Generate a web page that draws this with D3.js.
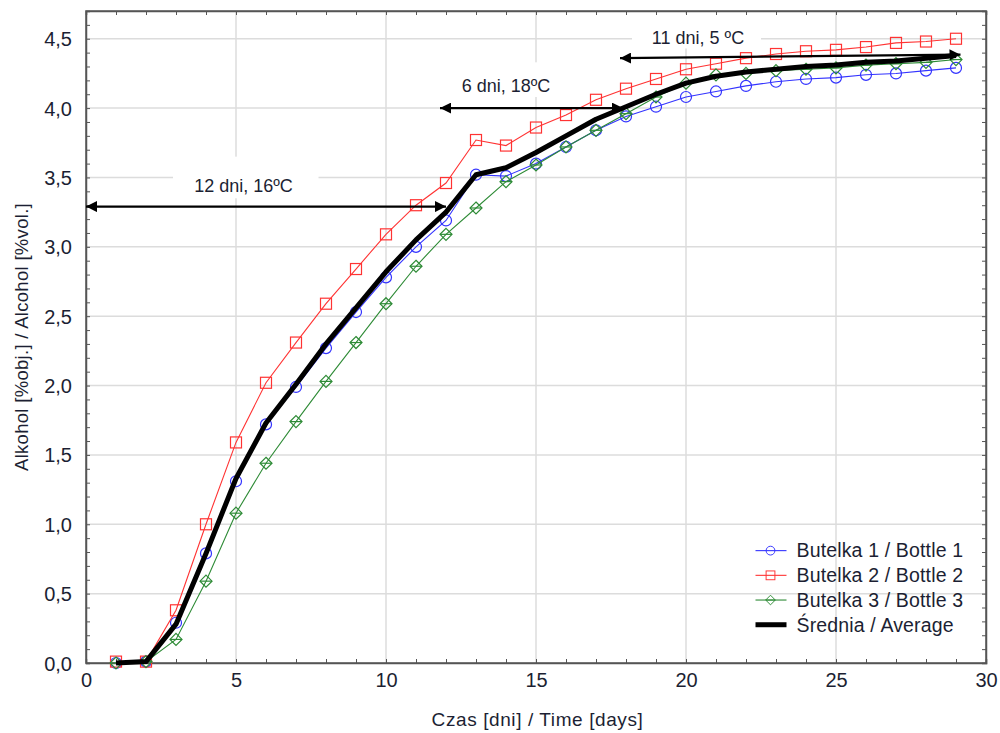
<!DOCTYPE html>
<html>
<head>
<meta charset="utf-8">
<script src="https://cdn.jsdelivr.net/npm/d3@7"></script>
<style>
  body { margin: 0; background: #fff; }
  text { font-family: "Liberation Sans", Arial, sans-serif; }
</style>
</head>
<body>
<div id="plot"></div>
<script>
// days of measurement
var days = [1,2,3,4,5,6,7,8,9,10,11,12,13,14,15,16,17,18,19,20,21,22,23,24,25,26,27,28,29];

var bottle1 = [0.00,0.01,0.29,0.79,1.31,1.72,1.99,2.27,2.53,2.78,3.00,3.19,3.52,3.51,3.60,3.72,3.84,3.94,4.01,4.08,4.12,4.16,4.19,4.21,4.22,4.24,4.25,4.27,4.29];
var bottle2 = [0.01,0.01,0.38,1.00,1.59,2.02,2.31,2.59,2.84,3.09,3.30,3.46,3.77,3.73,3.86,3.95,4.06,4.14,4.21,4.28,4.32,4.36,4.39,4.41,4.42,4.44,4.47,4.48,4.50];
var bottle3 = [0.00,0.01,0.17,0.59,1.08,1.44,1.74,2.03,2.31,2.59,2.86,3.09,3.28,3.47,3.59,3.72,3.84,3.96,4.08,4.18,4.24,4.25,4.27,4.28,4.29,4.31,4.32,4.33,4.35];
var average = [0.00,0.01,0.28,0.79,1.33,1.73,2.01,2.30,2.56,2.82,3.05,3.25,3.52,3.57,3.68,3.80,3.92,4.01,4.10,4.18,4.23,4.26,4.28,4.30,4.31,4.33,4.34,4.36,4.38];

var seriesNames = ["Butelka 1 / Bottle 1", "Butelka 2 / Bottle 2", "Butelka 3 / Bottle 3", "Średnia / Average"];

var xTicks = [0,5,10,15,20,25,30];
var yTicks = [0,0.5,1,1.5,2,2.5,3,3.5,4,4.5];

// annotations: [label, day from, day to, value from, value to]
var arrows = [
  ["12 dni, 16ºC", 0, 12, 3.29, 3.29],
  ["6 dni, 18ºC", 11.8, 17.9, 4.0, 4.0],
  ["11 dni, 5 ºC", 17.8, 29.15, 4.36, 4.385]
];

/*********************** Plot Below *********************/
var W = 1000, H = 733;
var margin = {top: 11, right: 13, bottom: 70, left: 86};
var width = W - margin.left - margin.right,
    height = H - margin.top - margin.bottom;

var xScale = d3.scaleLinear().domain([0, 30]).range([0, 900]);
var yScale = d3.scaleLinear().domain([0, 4.7]).range([height, 0]);

var svg = d3.select("#plot").append("svg")
  .attr("width", W)
  .attr("height", H);

svg.append("defs").append("marker")
  .attr("id", "head")
  .attr("viewBox", "0 0 10 10")
  .attr("refX", 10).attr("refY", 5)
  .attr("markerWidth", 5).attr("markerHeight", 5)
  .attr("markerUnits", "strokeWidth")
  .attr("orient", "auto-start-reverse")
  .append("path")
  .attr("d", "M0,0 L10,5 L0,10 z")
  .attr("fill", "#000");

var g = svg.append("g")
  .attr("transform", "translate(" + margin.left + "," + margin.top + ")");

var comma = function(d) { return d3.format(".1f")(d).replace(".", ","); };

// gridlines
g.append("g")
  .selectAll("line").data(xTicks.slice(1, -1)).join("line")
  .attr("x1", d => xScale(d)).attr("x2", d => xScale(d))
  .attr("y1", 0).attr("y2", height)
  .attr("stroke", "#dcdcdc").attr("stroke-width", 1.5);
g.append("g")
  .selectAll("line").data(yTicks.slice(1)).join("line")
  .attr("x1", 0).attr("x2", xScale(30))
  .attr("y1", d => yScale(d)).attr("y2", d => yScale(d))
  .attr("stroke", "#dcdcdc").attr("stroke-width", 1.5);

// white boxes behind annotation labels
var boxes = [[2.9, 7.75, 3.35, 3.65], [12.3, 16.4, 4.08, 4.33], [18.2, 22.5, 4.43, 4.68]];
g.append("g").selectAll("rect").data(boxes).join("rect")
  .attr("x", d => xScale(d[0]))
  .attr("width", d => xScale(d[1]) - xScale(d[0]))
  .attr("y", d => yScale(d[3]))
  .attr("height", d => yScale(d[2]) - yScale(d[3]))
  .attr("fill", "#fff");

// axes (ticks inside)
var xAxis = d3.axisBottom(xScale).tickValues(d3.range(0, 31)).tickSize(-4).tickFormat(d => xTicks.includes(d) ? d : "").tickPadding(14);
var yAxis = d3.axisLeft(yScale).tickValues(d3.range(0, 47).map(d => d / 10)).tickSize(-4)
  .tickFormat(d => yTicks.some(t => Math.abs(t - d) < 1e-6) ? comma(d) : "").tickPadding(14);

var gx = g.append("g").attr("class", "x axis")
  .attr("transform", "translate(0," + height + ")")
  .call(xAxis);
var gy = g.append("g").attr("class", "y axis").call(yAxis);
g.append("g").call(d3.axisTop(xScale).tickValues(d3.range(1, 30)).tickSize(-4).tickFormat(""));
g.append("g").attr("transform", "translate(" + xScale(30) + ",0)")
  .call(d3.axisRight(yScale).tickValues(d3.range(1, 47).map(d => d / 10)).tickSize(-4).tickFormat(""));

g.selectAll(".domain").attr("stroke", "#555").attr("stroke-width", 1.5);
g.selectAll(".tick line").attr("stroke", "#555");
g.selectAll(".tick text").attr("font-size", 20).attr("fill", "#1c1f33")
  .attr("font-family", "Liberation Sans, Arial, sans-serif");
gx.selectAll(".tick text").attr("dy", "0.5em");
gy.selectAll(".tick text").attr("dy", "0.35em");

// frame closing
g.append("rect").attr("width", xScale(30)).attr("height", height)
  .attr("fill", "none").attr("stroke", "#555").attr("stroke-width", 1.5);

// axis labels
svg.append("text")
  .attr("x", margin.left + xScale(15.05)).attr("y", 726)
  .attr("text-anchor", "middle").attr("font-size", 19).attr("letter-spacing", 0.6)
  .attr("fill", "#1c1f33")
  .text("Czas [dni] / Time [days]");
svg.append("text")
  .attr("transform", "translate(28," + (margin.top + yScale(2.35)) + ") rotate(-90)")
  .attr("text-anchor", "middle").attr("font-size", 18.5).attr("letter-spacing", 0.3)
  .attr("fill", "#1c1f33")
  .text("Alkohol [%obj.] / Alcohol [%vol.]");

// series
var series = [
  {name: seriesNames[0], values: bottle1, color: "#3333ff", shape: "circle"},
  {name: seriesNames[1], values: bottle2, color: "#ff3333", shape: "square"},
  {name: seriesNames[2], values: bottle3, color: "#2e8b36", shape: "diamond"}
];

var plotLine = d3.line()
  .x((d, i) => xScale(days[i]))
  .y(d => yScale(d));

function drawMarker(sel, shape, color) {
  if (shape === "circle") {
    sel.append("circle").attr("r", 5.5);
  } else if (shape === "square") {
    sel.append("rect").attr("x", -5.5).attr("y", -5.5).attr("width", 11).attr("height", 11);
  } else {
    sel.append("path").attr("d", "M0,-6 L6,0 L0,6 L-6,0 Z");
    sel.append("path").attr("d", "M-6,0 L6,0");
  }
  sel.selectAll("*").attr("fill", "none").attr("stroke", color).attr("stroke-width", 1.2);
}

series.forEach(function(s) {
  g.append("path")
    .datum(s.values)
    .attr("d", plotLine)
    .attr("fill", "none")
    .attr("stroke", s.color)
    .attr("stroke-width", 1.1);
  g.append("g").selectAll("g").data(s.values).join("g")
    .attr("transform", (d, i) => "translate(" + xScale(days[i]) + "," + yScale(d) + ")")
    .each(function() { drawMarker(d3.select(this), s.shape, s.color); });
});

g.append("path")
  .datum(average)
  .attr("d", plotLine)
  .attr("fill", "none")
  .attr("stroke", "#000")
  .attr("stroke-width", 5)
  .attr("stroke-linejoin", "round");

// arrows with labels
arrows.forEach(function(a) {
  g.append("line")
    .attr("x1", xScale(a[1])).attr("y1", yScale(a[3]))
    .attr("x2", xScale(a[2])).attr("y2", yScale(a[4]))
    .attr("stroke", "#000").attr("stroke-width", 2.2)
    .attr("marker-start", "url(#head)")
    .attr("marker-end", "url(#head)");
});
var labelPos = [[5.25, 3.44], [14.0, 4.16], [20.4, 4.51]];
g.append("g").selectAll("text").data(arrows).join("text")
  .attr("x", (d, i) => xScale(labelPos[i][0]))
  .attr("y", (d, i) => yScale(labelPos[i][1]))
  .attr("dy", "0.35em")
  .attr("text-anchor", "middle")
  .attr("font-family", "Lato, 'Open Sans', sans-serif")
  .attr("font-size", 18)
  .attr("fill", "#1c1f33")
  .text(d => d[0]);

// legend
var legend = g.append("g").attr("transform", "translate(" + (xScale(22.75)) + "," + (yScale(0.81)) + ")");
var rows = series.concat([{name: seriesNames[3], color: "#000", shape: null}]);
rows.forEach(function(r, i) {
  var row = legend.append("g").attr("transform", "translate(0," + (i * 24.7) + ")");
  row.append("line").attr("x1", -13).attr("x2", 18).attr("y1", 0).attr("y2", 0)
    .attr("stroke", r.color).attr("stroke-width", r.shape ? 1.1 : 5);
  if (r.shape) {
    var m = row.append("g").attr("transform", "translate(2,0) scale(0.8)");
    drawMarker(m, r.shape, r.color);
  }
  row.append("text").attr("x", 28).attr("y", 0).attr("dy", "0.35em")
    .attr("font-size", 19.5).attr("letter-spacing", 0.15)
    .attr("fill", "#1c1f33").text(r.name);
});
</script>
</body>
</html>
